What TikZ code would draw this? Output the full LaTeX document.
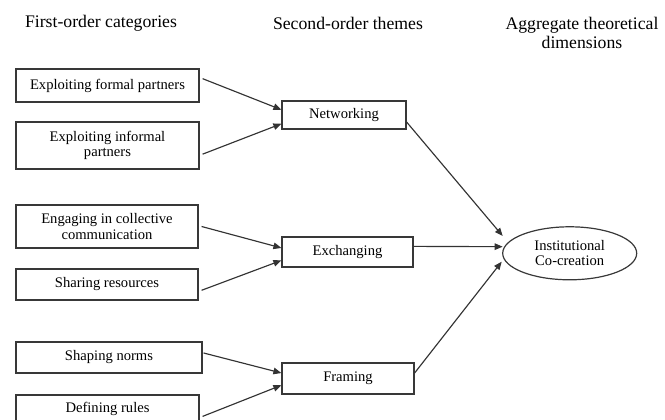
\documentclass[tikz,border=0pt]{standalone}
\usepackage{fontspec}
\setmainfont{Liberation Serif}
\usetikzlibrary{arrows.meta,calc,shapes.geometric}
\begin{document}
\begin{tikzpicture}[x=1pt,y=1pt,
  boxline/.style={draw=black!78, line width=1.2pt},
  cat/.style={boxline, rectangle, inner sep=0pt, align=center, font=\fontsize{14.6}{15.5}\selectfont, text=black},
  arr/.style={draw=black!80, line width=1.15pt, -{Triangle[length=8pt,width=6.5pt]}},
  head/.style={align=center, font=\fontsize{17.7}{19}\selectfont, text=black, inner sep=0pt}]
\useasboundingbox (0,0) rectangle (665,420);
\clip (0,0) rectangle (665,420);

% headers
\node[head] (h1) at (101,397) {First-order categories};
\node[head] (h2) at (348,397) {Second-order themes};
\node[head] (h3) at (582,387.5) {Aggregate theoretical\\dimensions};

% first-order categories
\node[cat, minimum width=183pt, minimum height=33pt] (b1) at (107.5,334.5) {Exploiting formal partners};
\node[cat, minimum width=183pt, minimum height=47pt] (b2) at (107.5,274.5) {Exploiting informal\\partners};
\node[cat, minimum width=182pt, minimum height=43pt] (b3) at (107,193.5) {Engaging in collective\\communication};
\node[cat, minimum width=182pt, minimum height=31pt] (b4) at (107,135.5) {Sharing resources};
\node[cat, minimum width=186pt, minimum height=31pt] (b5) at (109,62.5) {Shaping norms};
\node[cat, minimum width=183pt, minimum height=27pt] (b6) at (107.5,11.5) {Defining rules};

% second-order themes
\node[cat, minimum width=124pt, minimum height=28pt] (net) at (344,305) {Networking};
\node[cat, minimum width=131pt, minimum height=30pt] (exc) at (347.5,168) {Exchanging};
\node[cat, minimum width=132pt, minimum height=31pt] (fra) at (348,41.5) {Framing};

% aggregate dimension
\node[ellipse, boxline, minimum width=134pt, minimum height=53pt, inner sep=0pt, align=center,
      font=\fontsize{14.6}{15}\selectfont, text=black] (ell) at (569.7,166.7) {Institutional\\Co-creation};

% connectors to second-order themes
\draw[arr] ($(b1.north east)!0.30!(b1.south east)+(3,0)$) -- ($(net.north west)!0.32!(net.south west)$);
\draw[arr] ($(b2.north east)!0.68!(b2.south east)+(3,0)$) -- ($(net.north west)!0.80!(net.south west)$);
\draw[arr] ($(b3.north east)!0.50!(b3.south east)+(3,0)$) -- ($(exc.north west)!0.37!(exc.south west)$);
\draw[arr] ($(b4.north east)!0.68!(b4.south east)+(3,0)$) -- ($(exc.north west)!0.77!(exc.south west)$);
\draw[arr] ($(b5.north east)!0.36!(b5.south east)+(1,0)$) -- ($(fra.north west)!0.33!(fra.south west)$);
\draw[arr] ($(b6.north east)!0.78!(b6.south east)+(3,0)$) -- ($(fra.north west)!0.71!(fra.south west)$);

% connectors to aggregate dimension
\draw[arr] ($(net.north east)!0.74!(net.south east)$) -- ($(ell.center)+(-67,17.3)$);
\draw[arr] ($(exc.north east)!0.32!(exc.south east)$) -- ($(ell.center)+(-67,6.6)$);
\draw[arr] ($(fra.north east)!0.33!(fra.south east)$) -- ($(ell.center)+(-68,-8.4)$);
\end{tikzpicture}
\end{document}
